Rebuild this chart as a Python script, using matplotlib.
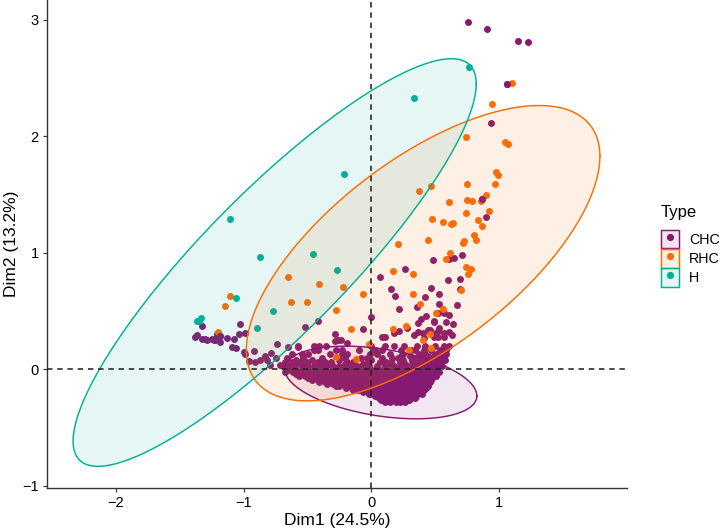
"""
PCA individuals plot, Dim1 vs Dim2, with one ellipse per type
"""

import numpy as np
import matplotlib
matplotlib.use("Agg")
import matplotlib.pyplot as plt
from matplotlib.legend_handler import HandlerTuple
from matplotlib.lines import Line2D
from matplotlib.patches import Patch

plt.rcParams['font.family'] = ['Liberation Sans', 'DejaVu Sans']

types = ['CHC', 'RHC', 'H']
colors = ['#861A72', '#FF6C00', '#00AF99']

# H points
h_x = [-1.104, -0.875, -0.461, -0.213, 0.766, 0.334, -0.271, -0.771, -0.898, -1.06, -1.336, -1.367, -1.352]
h_y = [1.29, 0.963, 0.986, 1.677, 2.591, 2.33, 0.851, 0.499, 0.353, 0.61, 0.439, 0.413, 0.413]

# RHC points
rhc_x = [1.099, 0.94, 0.74, 1.045, 1.068, 0.971, 0.99, 0.75, 0.966, 0.469, 0.373, 0.898, 0.604, 0.748, 0.789,
         0.857, 0.916, 0.74, 0.477, 0.557, 0.62, 0.641, 0.834, 0.862, 0.445, 0.211, 0.802, 0.818, 0.721, 0.713,
         0.615, 0.58, 0.737, 0.781, 0.755, 0.166, 0.326, 0.703, 0.323, 0.377, 0.56, 0.502, 0.172, 0.268, 0.459,
         0.401, 0.469, 0.297, -0.023, -0.279, -0.123, -0.164, -0.281, -0.627, -0.502, -0.068, -0.656, -0.412,
         -0.224, -1.109, -1.148, -1.199]
rhc_y = [2.459, 2.273, 1.997, 1.954, 1.935, 1.691, 1.671, 1.588, 1.591, 1.574, 1.528, 1.494, 1.439, 1.453, 1.445,
         1.445, 1.359, 1.339, 1.287, 1.267, 1.249, 1.258, 1.281, 1.232, 1.112, 1.077, 1.15, 1.109, 1.103, 1.081,
         0.995, 0.943, 0.874, 0.857, 0.817, 0.84, 0.819, 0.679, 0.647, 0.561, 0.518, 0.482, 0.341, 0.367, 0.304,
         0.254, 0.178, 0.169, 0.215, 0.107, 0.089, 0.348, 0.51, 0.574, 0.58, 0.642, 0.788, 0.731,
         0.702, 0.628, 0.542, 0.321]

# CHC points away from the dense cloud
chc_x = [0.758, 0.901, 1.143, 1.224, 1.06, 0.932, 0.865, 0.896, 0.709, 0.482, 0.604, 0.643, 0.26, 0.69, 0.596,
         0.151, 0.463, 0.69, 0.185, 0.422, 0.529, 0.529, 0.666, 0.354, 0.219, 0.57, 0.609, 0.518, 0.424, 0.388,
         0.367, 0.487, 0.487, 0.584, 0.641, 0.529, 0.518, 0.505, 0.609, 0.63, 0.565, 0.565, 0.279, 0.213, 0.174,
         0.362, 0.33, 0.401, 0.44, 0.459, 0.492, 0.518, 0.414, 0.102, 0.08, 0.07,
         -1.323, -1.026, -0.521, -0.42, -0.005, -0.068, -0.289, -0.263, -0.289, -0.242, -0.191, -0.737, -0.656,
         -0.576, -0.99, -1.041, -1.076, -1.13, -1.088, -1.057, -0.998, -0.992, -0.916, -0.959, -0.912, -0.875,
         -0.834, -0.784, -0.818, -1.383, -1.367, -1.326, -1.305, -1.284, -1.245, -1.227, -1.209, -1.219, -1.2,
         -1.188, -1.182, -1.232, -0.75, -0.72, -0.797]
chc_y = [2.978, 2.923, 2.82, 2.809, 2.445, 2.118, 1.462, 1.304, 0.98, 0.937, 0.948, 0.952, 0.86, 0.776, 0.768,
         0.688, 0.694, 0.688, 0.625, 0.622, 0.642, 0.559, 0.553, 0.531, 0.518, 0.479, 0.462, 0.479, 0.458, 0.427,
         0.398, 0.415, 0.402, 0.404, 0.39, 0.353, 0.329, 0.307, 0.318, 0.29, 0.307, 0.278, 0.35, 0.324, 0.312,
         0.321, 0.295, 0.307, 0.338, 0.333, 0.278, 0.273, 0.264, 0.275, 0.275, 0.788,
         0.372, 0.39, 0.364, 0.415, 0.45, 0.344, 0.298, 0.247, 0.241, 0.249, 0.228, 0.215, 0.187,
         0.192, 0.31, 0.301, 0.258, 0.269, 0.187, 0.181, 0.144, 0.132, 0.155, 0.071, 0.058, 0.077,
         0.114, 0.135, 0.083, 0.278, 0.292, 0.261, 0.261, 0.255, 0.258, 0.249, 0.301, 0.269, 0.264,
         0.235, 0.284, 0.249, 0.095, 0.04, 0.034]

# dense CHC cloud, read row by row
row_y = [0.198, 0.163, 0.129, 0.095, 0.06, 0.026, -0.009, -0.043, -0.077, -0.112, -0.146, -0.181, -0.215, -0.249, -0.284,
         0.11, 0.078, 0.043, -0.026, -0.06, -0.095, -0.13, -0.164, -0.198, -0.232, -0.266]
row_0 = [-0.578, -0.453, -0.414, -0.359, 0.0, 0.102, 0.18, 0.258, 0.359, 0.422, 0.5, 0.57, 0.609]
row_1 = [-0.453, -0.422, -0.281, -0.227, -0.094, 0.031, 0.086, 0.234, 0.313, 0.344, 0.414, 0.469, 0.539, 0.586]
row_2 = [-0.625, -0.547, -0.5, -0.328, -0.234, -0.188, -0.008, 0.047, 0.141, 0.25, 0.375, 0.422, 0.508, 0.547, 0.586]
row_3 = [-0.664, -0.539, -0.391, -0.211, -0.086, -0.039, 0.086, 0.164, 0.211, 0.344, 0.383, 0.43, 0.477, 0.523, 0.57]
row_4 = [-0.68, -0.625, -0.563, -0.508, -0.422, -0.367, -0.32, -0.195, -0.148, -0.031, 0.07, 0.117, 0.156, 0.227,
         0.359, 0.406, 0.453, 0.5, 0.539]
row_5 = [-0.695, -0.648, -0.602, -0.547, -0.5, -0.453, -0.406, -0.359, -0.305, -0.258, -0.211, -0.164, -0.117,
         -0.063, -0.016, 0.047, 0.109, 0.18, 0.227, 0.273, 0.328, 0.375, 0.422, 0.469, 0.516, 0.555]
row_6 = [-0.641, -0.594, -0.547, -0.5, -0.453, -0.406, -0.359, -0.313, -0.266, -0.219, -0.172, -0.125, -0.078,
         -0.031, 0.016, 0.063, 0.109, 0.156, 0.203, 0.25, 0.297, 0.344, 0.391, 0.438, 0.484, 0.516]
row_7 = [-0.594, -0.547, -0.5, -0.453, -0.406, -0.359, -0.313, -0.266, -0.219, -0.172, -0.125, -0.078, -0.031,
         0.016, 0.063, 0.109, 0.156, 0.203, 0.25, 0.297, 0.344, 0.391, 0.438, 0.492]
row_8 = [-0.5, -0.445, -0.398, -0.352, -0.305, -0.258, -0.211, -0.164, -0.117, -0.07, -0.023, 0.023, 0.07, 0.117,
         0.164, 0.211, 0.258, 0.305, 0.352, 0.398, 0.445, 0.477]
row_9 = [-0.414, -0.367, -0.32, -0.273, -0.227, -0.18, -0.133, -0.086, -0.039, 0.008, 0.055, 0.102, 0.148, 0.195,
         0.242, 0.289, 0.336, 0.383, 0.422, 0.461]
row_10 = [-0.281, -0.258, -0.211, -0.164, -0.117, -0.07, -0.023, 0.023, 0.07, 0.117, 0.164, 0.211, 0.258, 0.305,
          0.344, 0.383, 0.422, 0.445]
row_11 = [-0.148, -0.102, -0.055, -0.008, 0.039, 0.086, 0.133, 0.18, 0.219, 0.266, 0.305, 0.352, 0.391, 0.414]
row_12 = [-0.023, 0.0, 0.047, 0.094, 0.141, 0.18, 0.227, 0.273, 0.313, 0.359, 0.398]
row_13 = [0.055, 0.102, 0.141, 0.188, 0.227, 0.273, 0.313, 0.344]
row_14 = [0.109, 0.148, 0.188, 0.227, 0.266]
# in-between rows that close the solid part of the cloud
row_15 = [0.234, 0.305, 0.398, 0.445, 0.492, 0.562]
row_16 = [-0.594, -0.469, -0.258, 0.0, 0.25, 0.32, 0.391, 0.445, 0.5, 0.547, 0.578]
row_17 = [-0.672, -0.61, -0.531, -0.398, -0.344, -0.211, -0.07, 0.141, 0.266, 0.32, 0.367, 0.414, 0.469, 0.523, 0.547]
row_18 = [-0.68, -0.617, -0.57, -0.523, -0.477, -0.43, -0.383, -0.336, -0.289, -0.242, -0.195, -0.148, -0.102,
          -0.055, -0.008, 0.039, 0.086, 0.133, 0.18, 0.227, 0.273, 0.32, 0.367, 0.414, 0.461, 0.5, 0.531]
row_19 = [-0.57, -0.523, -0.477, -0.43, -0.383, -0.336, -0.289, -0.242, -0.195, -0.148, -0.102, -0.055, -0.008,
          0.039, 0.086, 0.133, 0.18, 0.227, 0.273, 0.32, 0.367, 0.414, 0.461, 0.507]
row_20 = [-0.469, -0.422, -0.375, -0.328, -0.281, -0.234, -0.188, -0.141, -0.094, -0.047, 0.0, 0.047, 0.094, 0.141,
          0.188, 0.234, 0.281, 0.328, 0.375, 0.422, 0.469]
row_21 = [-0.352, -0.305, -0.258, -0.211, -0.164, -0.117, -0.07, -0.023, 0.023, 0.07, 0.117, 0.164, 0.211, 0.258,
          0.305, 0.352, 0.398, 0.445]
row_22 = [-0.203, -0.156, -0.109, -0.063, -0.016, 0.031, 0.078, 0.125, 0.172, 0.219, 0.266, 0.313, 0.359, 0.406, 0.43]
row_23 = [-0.07, -0.031, 0.016, 0.063, 0.109, 0.156, 0.203, 0.25, 0.297, 0.344, 0.391]
row_24 = [0.031, 0.078, 0.125, 0.172, 0.219, 0.266, 0.305, 0.352]
row_25 = [0.078, 0.125, 0.172, 0.219, 0.266, 0.297]
rows = [row_0, row_1, row_2, row_3, row_4, row_5, row_6, row_7, row_8, row_9, row_10, row_11, row_12, row_13, row_14,
        row_15, row_16, row_17, row_18, row_19, row_20, row_21, row_22, row_23, row_24, row_25]

# ellipses: centre x, centre y, half range x, half range y, phase (deg)
ell_cx = [0.073, 0.404, -0.758]
ell_cy = [-0.114, 0.996, 0.916]
ell_a = [0.752, 1.384, 1.578]
ell_b = [0.312, 1.268, 1.75]
ell_phase = [111.5, 49.0, 28.8]

fig = plt.figure(figsize=(7.21, 5.31), dpi=100)
ax = fig.add_axes([47 / 721, 43 / 531, 580 / 721, 488 / 531])

dense_x = [x for r in rows for x in r]
dense_y = [y for y, r in zip(row_y, rows) for x in r]

dot = 25
ax.scatter(chc_x + dense_x, chc_y + dense_y, s=dot, color=colors[0], linewidths=0, zorder=2)
ax.scatter(rhc_x, rhc_y, s=dot, color=colors[1], linewidths=0, zorder=2.1)
ax.scatter(h_x, h_y, s=dot, color=colors[2], linewidths=0, zorder=2.2)
# the few purple points that sit over an orange one
ax.scatter([1.06, 0.865, -1.182], [2.445, 1.462, 0.284], s=dot, color=colors[0], linewidths=0, zorder=2.3)

t = np.radians(np.arange(0, 361, 2))
for i in range(3):
    ex = ell_cx[i] + ell_a[i] * np.cos(t)
    ey = ell_cy[i] + ell_b[i] * np.cos(t - np.radians(ell_phase[i]))
    ax.fill(ex, ey, color=colors[i], alpha=0.1, linewidth=0, zorder=3)
    ax.plot(ex, ey, color=colors[i], lw=1.05, zorder=3.1)

ax.axhline(0, color='#222222', lw=1.15, ls=(0, (3.4, 3.0)), zorder=4)
ax.axvline(0, color='#222222', lw=1.15, ls=(0, (3.4, 3.0)), zorder=4)

ax.set_xlim(-2.54, 2.0)
ax.set_ylim(-1.02, 3.17)
ax.set_xticks([-2, -1, 0, 1])
ax.set_yticks([-1, 0, 1, 2, 3])
ax.tick_params(labelsize=10.5, length=3, width=0.85, color='#333333', labelcolor='black', pad=3)
ax.spines['top'].set_visible(False)
ax.spines['right'].set_visible(False)
ax.spines['left'].set_linewidth(1.0)
ax.spines['bottom'].set_linewidth(1.0)
ax.spines['left'].set_color('#333333')
ax.spines['bottom'].set_color('#333333')

ax.set_xlabel('Dim1 (24.5%)', fontsize=12.5, labelpad=2)
ax.set_ylabel('Dim2 (13.2%)', fontsize=12.5, labelpad=2)

# legend keys: tinted box with a dot in the middle
handles = []
for c in colors:
    box = Patch(facecolor=matplotlib.colors.to_rgba(c, 0.1), edgecolor=c, linewidth=1.05)
    mark = Line2D([], [], marker='o', ls='', color=c, markersize=5.2, markeredgewidth=0)
    handles.append((box, mark))
leg = fig.legend(handles, types, handler_map={tuple: HandlerTuple(ndivide=1, pad=0)},
                 title='Type', title_fontsize=12, fontsize=10.3, frameon=False,
                 loc='center left', bbox_to_anchor=(660.5 / 721, 1 - 246 / 531), alignment='left',
                 handlelength=1.31, handleheight=1.64, labelspacing=0.04, handletextpad=0.68,
                 borderpad=0, borderaxespad=0)
leg._legend_box.sep = 7

fig.savefig('out.png', dpi=100)
